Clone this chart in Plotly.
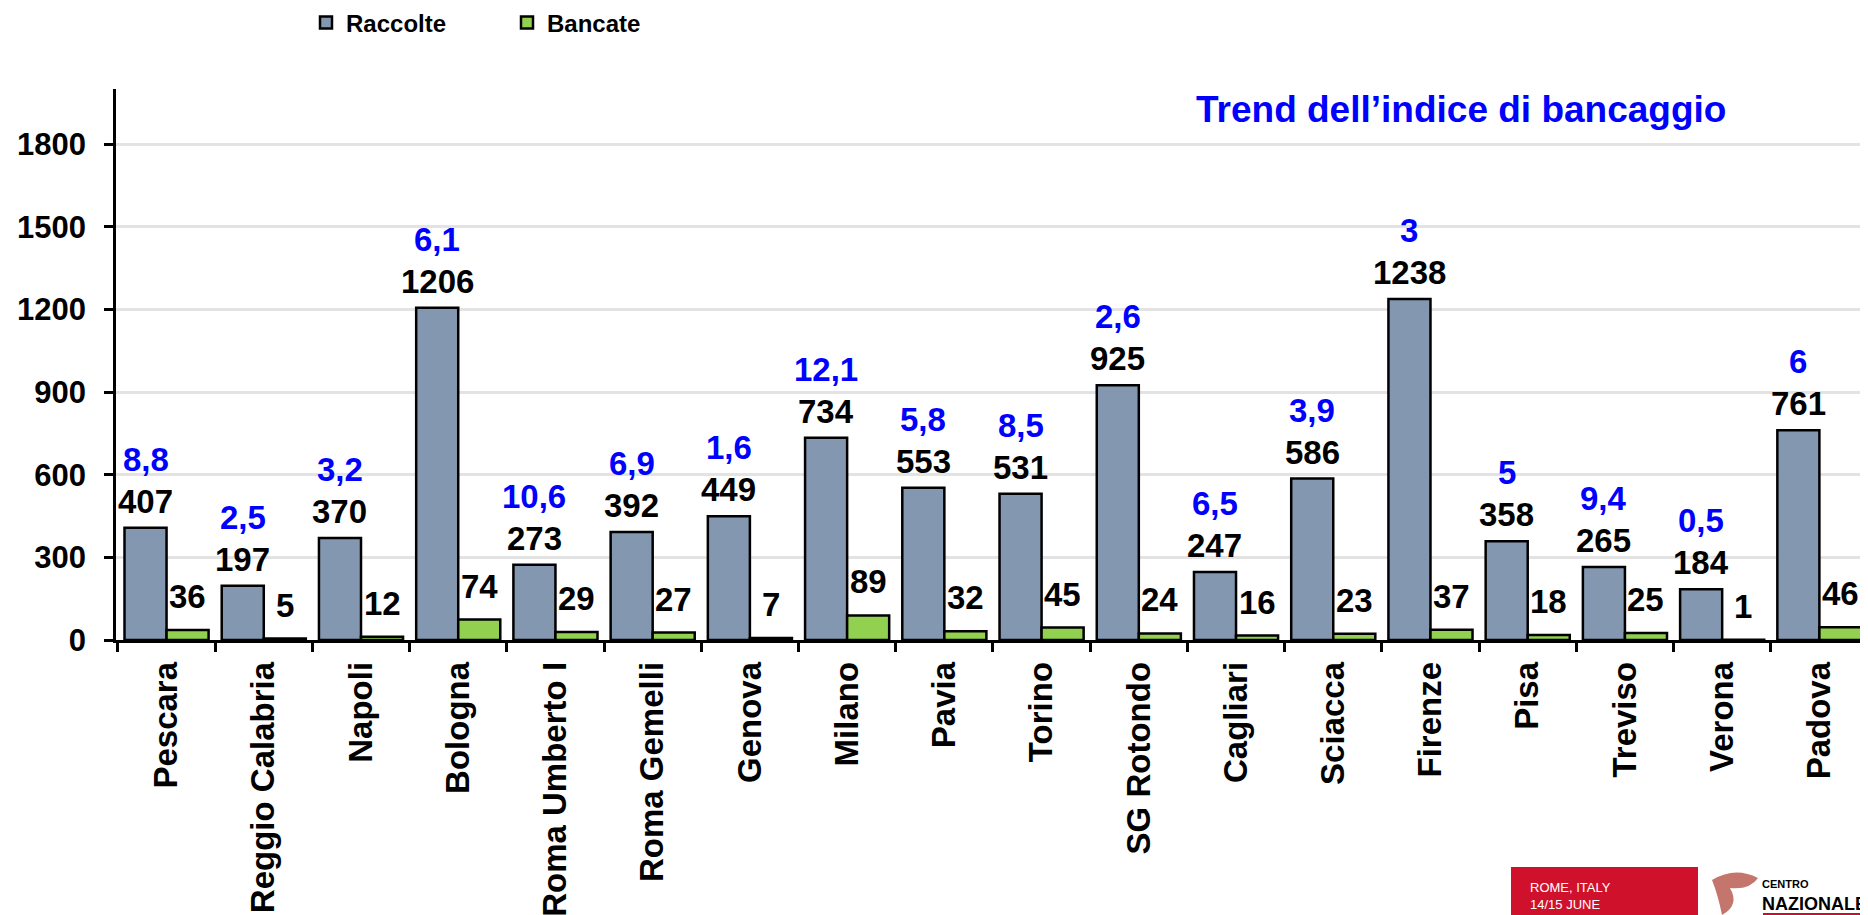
import plotly.graph_objects as go

# data
cities = ["Pescara", "Reggio Calabria", "Napoli", "Bologna", "Roma Umberto I",
          "Roma Gemelli", "Genova", "Milano", "Pavia", "Torino", "SG Rotondo",
          "Cagliari", "Sciacca", "Firenze", "Pisa", "Treviso", "Verona", "Padova"]
raccolte = [407, 197, 370, 1206, 273, 392, 449, 734, 553, 531, 925, 247, 586, 1238, 358, 265, 184, 761]
bancate = [36, 5, 12, 74, 29, 27, 7, 89, 32, 45, 24, 16, 23, 37, 18, 25, 1, 46]
indice = [8.8, 2.5, 3.2, 6.1, 10.6, 6.9, 1.6, 12.1, 5.8, 8.5, 2.6, 6.5, 3.9, 3, 5, 9.4, 0.5, 6]

FONT = "Liberation Sans, Arial, sans-serif"
# the page body has an 8px margin, so the figure is drawn 8px smaller and offset
OFF = 8
W, H = 1868 - OFF, 915 - OFF
L, R, T, B = 116 - OFF, 0, 89 - OFF, 275
BARGAP = 0.135

PW, PH = W - L - R, H - T - B
cat_px = PW / len(cities)
half_bar = cat_px * (1 - BARGAP) / 4  # offset from category centre to bar centre


def fmt(v):
    return f"{v:g}".replace(".", ",")


def px(x):  # page pixel -> paper x
    return (x - OFF - L) / PW


def py(y):  # page pixel -> paper y
    return 1 - (y - OFF - T) / PH


fig = go.Figure()
fig.add_trace(go.Bar(x=cities, y=raccolte, name="Raccolte",
                     marker=dict(color="#8497B0", line=dict(color="black", width=2.5))))
fig.add_trace(go.Bar(x=cities, y=bancate, name="Bancate",
                     marker=dict(color="#92D050", line=dict(color="black", width=2.5))))

LBL = 33
annotations = []
for c, r, b, i in zip(cities, raccolte, bancate, indice):
    annotations.append(dict(x=c, y=r, xref="x", yref="y", text=f"<b>{r}</b>", showarrow=False,
                            xshift=-half_bar, yshift=6, yanchor="bottom",
                            font=dict(family=FONT, size=LBL, color="black")))
    annotations.append(dict(x=c, y=r, xref="x", yref="y", text=f"<b>{fmt(i)}</b>", showarrow=False,
                            xshift=-half_bar, yshift=48, yanchor="bottom",
                            font=dict(family=FONT, size=LBL, color="#0000FF")))
    annotations.append(dict(x=c, y=b, xref="x", yref="y", text=f"<b>{b}</b>", showarrow=False,
                            xshift=half_bar, yshift=13, yanchor="bottom",
                            font=dict(family=FONT, size=LBL, color="black")))

annotations.append(dict(x=px(1728), y=py(110), xref="paper", yref="paper", xanchor="right", yanchor="middle",
                        text="<b>Trend dell\u2019indice di bancaggio</b>", showarrow=False,
                        font=dict(family=FONT, size=37, color="#0000FF")))

# conference / CNS logos bottom right (rough stand-ins)
logo_texts = [
    (1528, 878, "ROME, ITALY<br>14/15 JUNE<br>2021", 13, "white"),
    (1760, 876, "<b>CENTRO</b>", 11, "black"),
    (1760, 892, "<b>NAZIONALE</b>", 18, "black"),
]
for x, y, t, sz, col in logo_texts:
    annotations.append(dict(x=px(x), y=py(y), xref="paper", yref="paper", xanchor="left", yanchor="top",
                            text=t, align="left", showarrow=False,
                            font=dict(family=FONT, size=sz, color=col)))

shapes = [
    dict(type="rect", xref="paper", yref="paper",
         x0=px(1511), x1=px(1698), y0=py(867), y1=py(925),
         fillcolor="#D0112B", line=dict(width=0), layer="above"),
    dict(type="path", xref="paper", yref="paper",
         path=f"M {px(1712)},{py(880)} Q {px(1735)},{py(866)} {px(1758)},{py(878)} "
              f"Q {px(1750)},{py(890)} {px(1730)},{py(888)} Q {px(1740)},{py(905)} {px(1722)},{py(915)} "
              f"Q {px(1718)},{py(895)} {px(1712)},{py(880)} Z",
         fillcolor="rgba(165,45,30,0.65)", line=dict(width=0), layer="above"),
    # red top of the cut-off "SANGUE" wordmark
    dict(type="rect", xref="paper", yref="paper",
         x0=px(1763), x1=px(1864), y0=py(913), y1=py(918),
         fillcolor="#C8102E", line=dict(width=0), layer="above"),
]

fig.update_layout(
    width=W, height=H,
    margin=dict(l=L, r=R, t=T, b=B, autoexpand=False),
    paper_bgcolor="white", plot_bgcolor="white",
    barmode="group", bargap=BARGAP, bargroupgap=0,
    font=dict(family=FONT, color="black"),
    showlegend=True,
    legend=dict(orientation="h", x=px(306), xanchor="left",
                y=py(23), yanchor="middle",
                font=dict(family=FONT, size=24, color="black", weight="bold"),
                entrywidth=156, entrywidthmode="pixels", traceorder="normal"),
    annotations=annotations,
    shapes=shapes,
)

fig.update_xaxes(
    showline=True, linecolor="black", linewidth=2.5,
    ticks="outside", tickson="boundaries", ticklen=9, tickwidth=2.5, tickcolor="black",
    tickangle=-90, ticklabelstandoff=6,
    tickfont=dict(family=FONT, size=33, color="black", weight="bold"),
    showgrid=False,
)
fig.update_yaxes(
    range=[0, 2000], tickvals=[0, 300, 600, 900, 1200, 1500, 1800],
    showline=True, linecolor="black", linewidth=2.5,
    ticks="outside", ticklen=9, tickwidth=2.5, tickcolor="black",
    tickfont=dict(family=FONT, size=31, color="black", weight="bold"),
    showgrid=True, gridcolor="#E3E3E3", gridwidth=3, zeroline=False,
    ticklabelstandoff=12,
)

fig.write_html("out.html")
